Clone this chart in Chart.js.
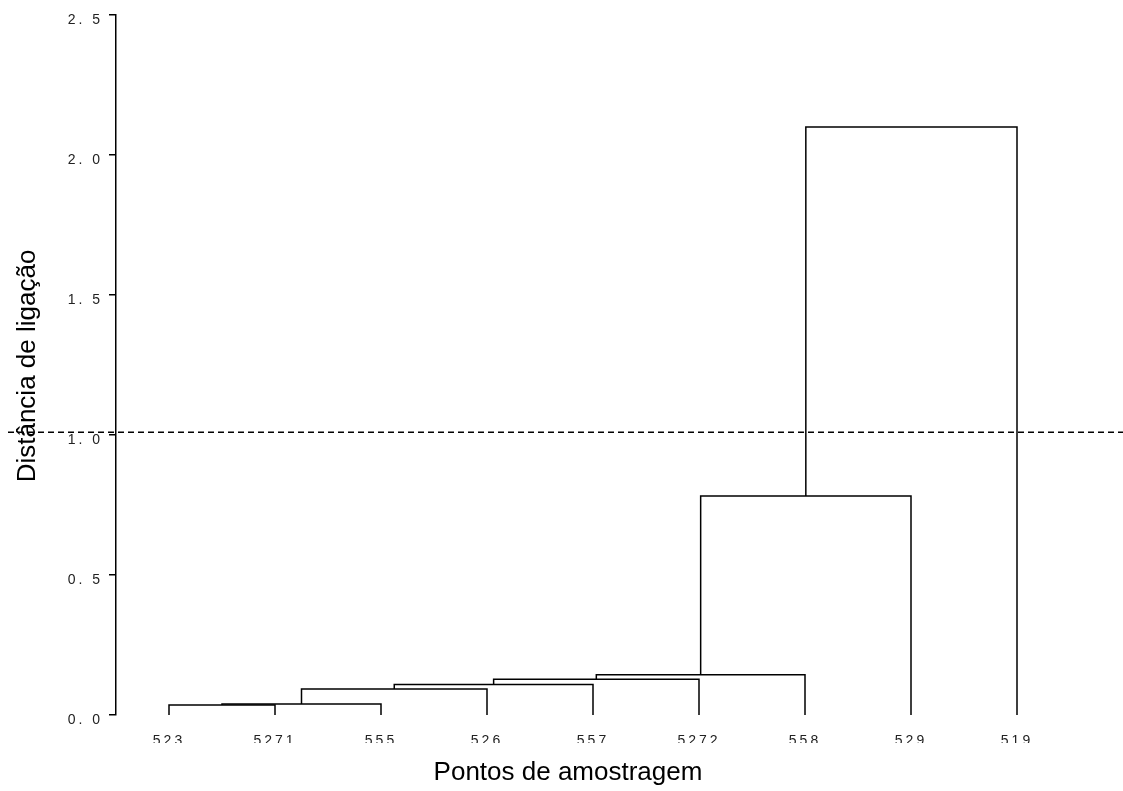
<!DOCTYPE html>
<html>
<head>
<meta charset="utf-8">
<script src="https://cdn.jsdelivr.net/npm/chart.js@4"></script>
<style>
  body { margin: 0; background: #fff; }
  #wrap { width: 1123px; height: 791px; }
</style>
</head>
<body>
<div id="wrap"><canvas id="dendro" width="1123" height="791"></canvas></div>
<script>
// leaves in plotted order
var leaves = ['523', '5271', '555', '526', '557', '5272', '558', '529', '519'];
// merges: ids 0..8 are leaves, each merge creates id 9, 10, ...
var mergeLeft  = [0, 9, 10, 11, 12, 13, 14, 15];
var mergeRight = [1, 2, 3, 4, 5, 6, 7, 8];
var mergeHeight = [0.036, 0.039, 0.093, 0.109, 0.128, 0.144, 0.782, 2.1];
var yTicks = [0, 0.5, 1.0, 1.5, 2.0, 2.5];
var cutHeight = 1.01;

// positions/heights of every node, built from the merge table
var nodeX = leaves.map(function(l, i){ return i + 1; });
var nodeH = leaves.map(function(){ return 0; });
var datasets = [];
for (var i = 0; i < mergeHeight.length; i++) {
    var a = mergeLeft[i], b = mergeRight[i], h = mergeHeight[i];
    datasets.push({
        data: [
            {x: nodeX[a], y: nodeH[a]},
            {x: nodeX[a], y: h},
            {x: nodeX[b], y: h},
            {x: nodeX[b], y: nodeH[b]}
        ],
        showLine: true,
        borderColor: '#000',
        borderWidth: 1.5,
        pointRadius: 0,
        tension: 0,
        fill: false
    });
    nodeX.push((nodeX[a] + nodeX[b]) / 2);
    nodeH.push(h);
}

// spaced-out tick lettering like the original
var spacing = {
    id: 'spacing',
    beforeDraw: function(chart){ chart.ctx.letterSpacing = '3px'; },
    beforeLayout: function(chart){ chart.ctx.letterSpacing = '3px'; }
};

// dashed cut line, clipped leaf labels and axis titles
var extras = {
    id: 'extras',
    afterDraw: function(chart){
        var c = chart.ctx;
        var y = chart.scales.y.getPixelForValue(cutHeight);
        c.save();
        c.letterSpacing = '0px';
        c.strokeStyle = '#000';
        c.lineWidth = 1.5;
        c.setLineDash([6, 4]);
        c.beginPath();
        c.moveTo(8, y);
        c.lineTo(chart.width, y);
        c.stroke();
        c.setLineDash([]);
        // leaf labels are cut off at the bottom in the original
        c.fillStyle = '#fff';
        c.fillRect(chart.chartArea.left, 743, chart.chartArea.right - chart.chartArea.left, 12);
        c.fillStyle = '#000';
        c.font = '26px "Liberation Sans", Arial, sans-serif';
        c.textAlign = 'center';
        c.textBaseline = 'middle';
        c.fillText('Pontos de amostragem', 568, 773);
        c.translate(28, 366);
        c.rotate(-Math.PI / 2);
        c.fillText('Distância de ligação', 0, 0);
        c.restore();
    }
};

var chart = new Chart(document.getElementById('dendro').getContext('2d'), {
    type: 'scatter',
    data: { datasets: datasets },
    options: {
        responsive: false,
        animation: false,
        layout: { padding: { top: 15, left: 0, right: 0, bottom: 0 } },
        plugins: { legend: { display: false }, tooltip: { enabled: false } },
        scales: {
            x: {
                type: 'linear',
                min: 0.5,
                max: 10,
                grid: { display: false },
                border: { display: false },
                afterBuildTicks: function(scale){
                    scale.ticks = leaves.map(function(l, i){ return { value: i + 1 }; });
                },
                afterFit: function(scale){
                    scale.height = 76;
                    scale.paddingLeft = 0;
                    scale.paddingRight = 0;
                },
                ticks: {
                    padding: 10,
                    maxRotation: 0,
                    autoSkip: false,
                    color: '#222',
                    font: { family: '"Liberation Sans", Arial, sans-serif', size: 14 },
                    callback: function(v){ return leaves[v - 1]; }
                }
            },
            y: {
                type: 'linear',
                min: 0,
                max: 2.5,
                afterBuildTicks: function(scale){
                    scale.ticks = yTicks.map(function(v){ return { value: v }; });
                },
                afterFit: function(scale){
                    scale.width = 116;
                    scale.paddingTop = 0;
                    scale.paddingBottom = 0;
                },
                grid: { drawOnChartArea: false, tickLength: 7, color: '#000', lineWidth: 1.5 },
                border: { display: true, color: '#000', width: 1.5 },
                ticks: {
                    padding: 6,
                    labelOffset: 5,
                    color: '#222',
                    font: { family: '"Liberation Sans", Arial, sans-serif', size: 14 },
                    callback: function(v){ return v.toFixed(1).replace('.', '. '); }
                }
            }
        }
    },
    plugins: [spacing, extras]
});
</script>
</body>
</html>
